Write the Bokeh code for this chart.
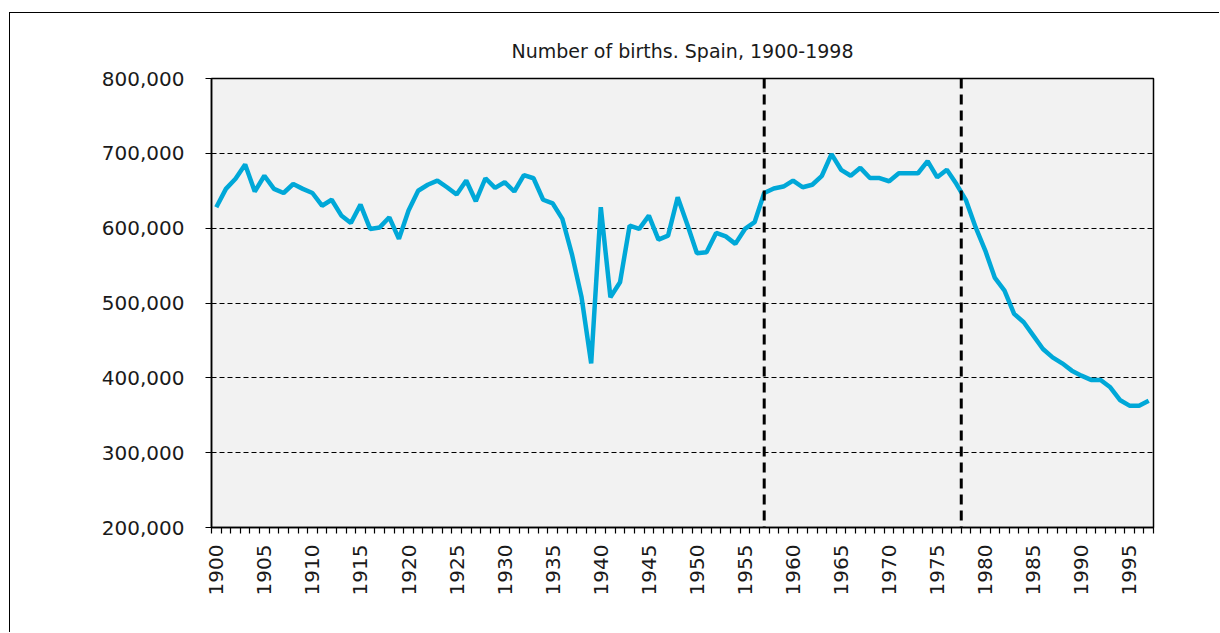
from bokeh.plotting import figure
from bokeh.models import (Range1d, FixedTicker, NumeralTickFormatter, Span, ColumnDataSource)
from bokeh.embed import file_html
from bokeh.resources import INLINE
import math

# ---- data ----
years = list(range(1900, 1998))
births = [
    628000, 652500, 666000, 685000, 649000, 670000, 652500, 647000, 659000, 652500,  # 1900-1909
    647000, 630000, 638000, 617000, 607000, 631500, 599000, 601000, 614500, 585700,  # 1910-1919
    623500, 650000, 658000, 663600, 654700, 645000, 663600, 636000, 666700, 653900,  # 1920-1929
    661400, 649000, 671000, 666700, 638000, 633000, 612400, 565000, 507600, 419400,  # 1930-1939
    628000, 507600, 527700, 603500, 599000, 616800, 584700, 590000, 641300, 605000,  # 1940-1949
    566500, 567800, 593700, 589000, 579000, 599000, 608000, 647000, 653000, 655600,  # 1950-1959
    663600, 654700, 658000, 670000, 699000, 678000, 670000, 680600, 667000, 667000,  # 1960-1969
    662700, 673400, 673400, 673400, 689500, 668000, 678000, 659000, 637000, 601000,  # 1970-1979
    570000, 533500, 516600, 485400, 474200, 456400, 438600, 427400, 419400, 409600,  # 1980-1989
    402900, 397200, 397200, 387300, 370400, 362800, 362800, 369500,                  # 1990-1997
]
label_years = list(range(1900, 2000, 5))
y_ticks = [200000, 300000, 400000, 500000, 600000, 700000, 800000]
period_marks = [1957, 1977.5]
title_text = "Number of births. Spain, 1900-1998"

FONT = "DejaVu Sans"

p = figure(width=1210, height=620, output_backend="svg", toolbar_location=None,
           x_range=Range1d(1899.5, 1997.5), y_range=Range1d(200000, 800000),
           min_border_left=201, min_border_top=65, min_border_right=67, min_border_bottom=106)
p.margin = (12, 0, 0, 9)
p.styles = {"border-top": "1px solid #000", "border-left": "1px solid #000"}

p.background_fill_color = "#F2F2F2"
p.border_fill_color = "white"
p.outline_line_color = "black"
p.outline_line_width = 1.5

p.title.text = title_text
p.title.align = "center"
p.title.text_font = FONT
p.title.text_font_size = "19px"
p.title.text_font_style = "normal"
p.title.text_color = "#1a1a1a"
p.title.standoff = 33

# grid
p.xgrid.grid_line_color = None
p.ygrid.ticker = FixedTicker(ticks=y_ticks)
p.ygrid.grid_line_color = "black"
p.ygrid.grid_line_dash = "5 3"
p.ygrid.grid_line_width = 1.2

# x axis
xa = p.xaxis[0]
xa.ticker = FixedTicker(ticks=label_years, minor_ticks=[y - 0.5 for y in years] + [years[-1] + 0.5])
xa.major_label_orientation = math.pi / 2
xa.major_tick_line_color = None
xa.major_tick_out = 6
xa.major_tick_in = 0
xa.minor_tick_out = 6
xa.minor_tick_in = 0
xa.minor_tick_line_color = "black"
xa.minor_tick_line_width = 1.2
xa.axis_line_color = "black"
xa.axis_line_width = 1.5
xa.major_label_text_font = FONT
xa.major_label_text_font_size = "20px"
xa.major_label_text_color = "#1a1a1a"
xa.major_label_standoff = 11

# y axis
ya = p.yaxis[0]
ya.ticker = FixedTicker(ticks=y_ticks)
ya.formatter = NumeralTickFormatter(format="0,0")
ya.minor_tick_line_color = None
ya.major_tick_out = 6
ya.major_tick_in = 0
ya.major_tick_line_color = "black"
ya.major_tick_line_width = 1.2
ya.axis_line_color = "black"
ya.axis_line_width = 1.5
ya.major_label_text_font = FONT
ya.major_label_text_font_size = "20px"
ya.major_label_text_color = "#1a1a1a"
ya.major_label_standoff = 21

for m in period_marks:
    p.add_layout(Span(location=m, dimension="height", line_color="black",
                      line_width=3, line_dash="10 6"))

src = ColumnDataSource(dict(year=years, births=births))
p.line("year", "births", source=src, line_color="#00A8D8", line_width=4.5)

open("out.html", "w").write(file_html(p, INLINE))
